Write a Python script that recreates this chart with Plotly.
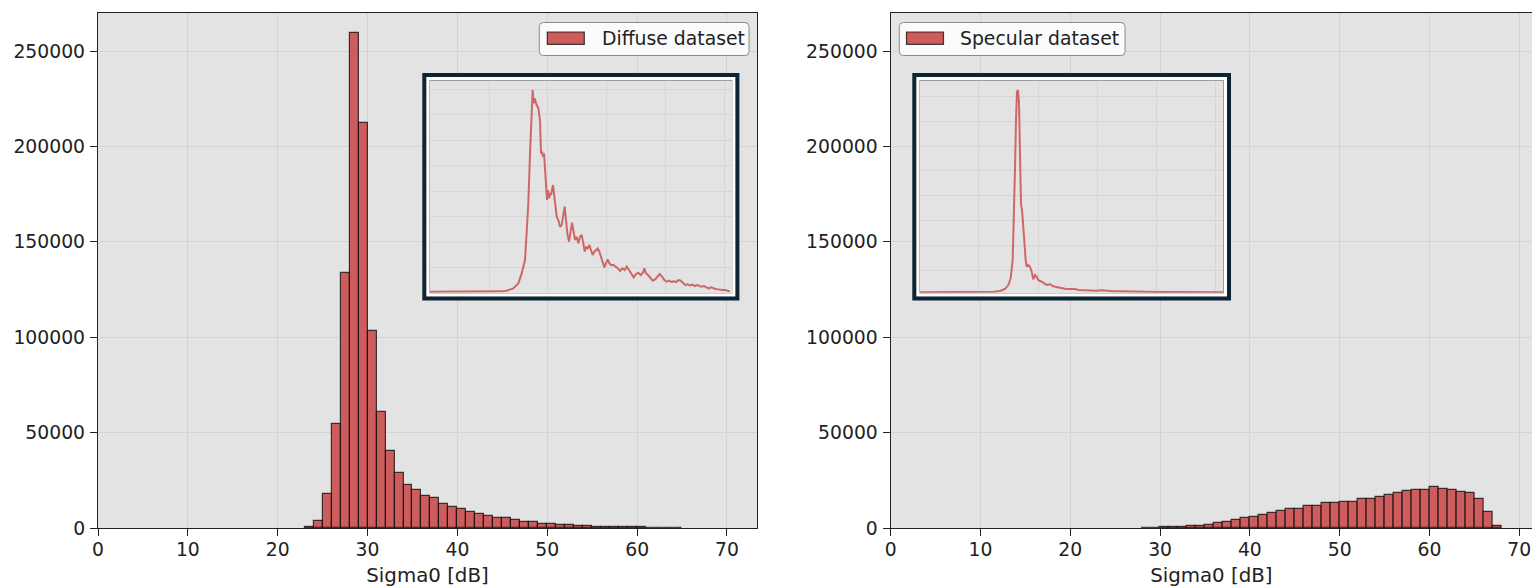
import plotly.graph_objects as go

# ---------------- data ----------------
diffuse_bin_left = [23, 24, 25, 26, 27, 28, 29, 30, 31, 32, 33, 34, 35, 36, 37, 38, 39, 40, 41, 42,
                    43, 44, 45, 46, 47, 48, 49, 50, 51, 52, 53, 54, 55, 56, 57, 58, 59, 60, 61, 62, 63, 64]
diffuse_counts = [600, 3700, 17800, 54300, 133600, 259300, 212300, 103400, 60600, 40200,
                  29000, 22700, 19900, 16900, 15500, 12800, 11200, 9900, 8500, 7200,
                  6300, 5100, 5100, 4400, 3000, 3000, 2100, 2100, 1400, 1400,
                  900, 900, 500, 400, 400, 300, 300, 300, 250, 200, 200, 150]

specular_bin_left = [28, 29, 30, 31, 32, 33, 34, 35, 36, 37, 38, 39, 40, 41, 42, 43, 44, 45, 46, 47,
                     48, 49, 50, 51, 52, 53, 54, 55, 56, 57, 58, 59, 60, 61, 62, 63, 64, 65, 66, 67]
specular_counts = [200, 250, 300, 350, 450, 900, 1100, 1800, 2700, 3400,
                   4100, 5300, 6000, 6700, 8100, 8800, 10000, 10000, 11600, 11600,
                   13000, 13000, 13700, 13700, 15100, 15100, 16500, 17400, 18100, 19300,
                   20000, 20000, 21600, 20700, 20000, 18800, 18100, 15100, 8300, 1300]

inset_diffuse_x = [30, 100, 180, 240, 260, 280, 295, 305, 315, 320,
                   325, 330, 335, 338, 341, 344, 350, 355, 360, 363,
                   366, 369, 372, 375, 378, 381, 384, 387, 390, 393,
                   396, 399, 402, 406, 410, 415, 420, 425, 430, 434,
                   438, 442, 447, 452, 456, 460, 465, 470, 475, 480,
                   485, 490, 494, 498, 503, 508, 513, 518, 523, 528,
                   533, 538, 543, 548, 553, 558, 563, 568, 573, 580,
                   587, 594, 600, 607, 614, 620, 627, 634, 641, 648,
                   655, 662, 669, 673, 677, 684, 691, 698, 705, 712,
                   719, 726, 733, 740, 747, 754, 761, 768, 775, 782,
                   789, 796, 803, 810, 817, 824, 831, 838, 845, 852,
                   859, 866, 873, 880, 887, 894, 901, 908, 915, 922, 930]
inset_diffuse_y = [0, 0, 0, 1, 3, 10, 25, 55, 95, 165,
                   265, 415, 565, 605, 565, 580, 560, 550, 515, 415,
                   420, 405, 415, 365, 305, 275, 305, 280, 295, 290,
                   305, 320, 295, 265, 225, 215, 195, 200, 235, 255,
                   215, 175, 150, 185, 207, 185, 155, 165, 145, 165,
                   170, 145, 120, 135, 130, 140, 125, 110, 120, 125,
                   130, 120, 105, 85, 73, 85, 97, 85, 80, 80,
                   75, 70, 62, 70, 65, 75, 65, 53, 43, 53,
                   57, 50, 57, 70, 57, 50, 40, 33, 37, 45,
                   53, 45, 35, 30, 33, 29, 31, 29, 35, 33,
                   25, 20, 22, 19, 21, 17, 20, 18, 15, 17,
                   14, 10, 13, 10, 8, 7, 5, 5, 5, 3, 1]

inset_specular_x = [30, 120, 200, 250, 270, 285, 295, 302, 308, 312,
                    315, 318, 321, 324, 327, 330, 333, 337, 340, 343,
                    347, 350, 355, 360, 365, 370, 375, 380, 385, 390,
                    398, 405, 412, 420, 428, 436, 445, 455, 465, 475,
                    485, 495, 505, 520, 540, 560, 575, 590, 610, 630,
                    660, 700, 750, 800, 850, 900, 940]
inset_specular_y = [0, 0, 0, 2, 4, 10, 22, 42, 97, 217,
                    367, 517, 602, 607, 567, 417, 267, 237, 187, 137,
                    97, 77, 82, 77, 62, 39, 52, 47, 37, 34,
                    31, 25, 22, 25, 19, 17, 15, 12, 11, 10,
                    11, 10, 7, 6, 5, 5, 6, 4, 3, 3,
                    2, 2, 1, 1, 1, 0, 0]

x_tick_vals = [0, 10, 20, 30, 40, 50, 60, 70]
y_tick_vals = [0, 50000, 100000, 150000, 200000, 250000]
y_tick_text = ["0", "50000", "100000", "150000", "200000", "250000"]
legend_labels = ["Diffuse dataset", "Specular dataset"]
x_title = "Sigma0 [dB]"

# ---------------- style / layout constants ----------------
W, H = 1532, 587
TOP, BOTTOM = 13, 528
FONT = "DejaVu Sans"
FS = 18.8
FS_TITLE = 19.8
TXT = "#222222"
BG = "#e3e3e3"
GRID = "#d3d3d3"
BAR_FILL = "#cd5c5c"
BAR_EDGE = "rgba(0,0,0,0.72)"
FRAME = "#0c2434"


def px(x):
    return x / W


def py(y):
    return (BOTTOM - y) / (BOTTOM - TOP)


fig = go.Figure()

fig.add_trace(go.Bar(x=[b + 0.5 for b in diffuse_bin_left], y=diffuse_counts, width=1,
                     marker=dict(color=BAR_FILL, line=dict(color=BAR_EDGE, width=1.2)),
                     xaxis="x", yaxis="y", showlegend=False, name=legend_labels[0]))
fig.add_trace(go.Bar(x=[b + 0.5 for b in specular_bin_left], y=specular_counts, width=1,
                     marker=dict(color=BAR_FILL, line=dict(color=BAR_EDGE, width=1.2)),
                     xaxis="x2", yaxis="y2", showlegend=False, name=legend_labels[1]))
fig.add_trace(go.Scatter(x=inset_diffuse_x, y=inset_diffuse_y, mode="lines",
                         line=dict(color="rgba(205,92,92,0.92)", width=2),
                         xaxis="x3", yaxis="y3", showlegend=False))
fig.add_trace(go.Scatter(x=inset_specular_x, y=inset_specular_y, mode="lines",
                         line=dict(color="rgba(205,92,92,0.92)", width=2),
                         xaxis="x4", yaxis="y4", showlegend=False))

main_x = dict(tickvals=x_tick_vals, ticks="outside", ticklen=7, tickwidth=1.3, tickcolor=TXT,
              showline=True, linecolor=TXT, linewidth=1.3, showgrid=True, gridcolor=GRID,
              gridwidth=1.3, zeroline=False, tickfont=dict(family=FONT, size=FS, color=TXT),
              title=dict(text=x_title, font=dict(family=FONT, size=FS_TITLE, color=TXT), standoff=10),
              ticklabelstandoff=-3, automargin=False)
main_y = dict(tickvals=y_tick_vals, ticktext=y_tick_text, ticks="outside", ticklen=7, tickwidth=1.3,
              tickcolor=TXT, showline=True, linecolor=TXT, linewidth=1.3, showgrid=True,
              gridcolor=GRID, gridwidth=1.3, zeroline=False, range=[0, 270000],
              tickfont=dict(family=FONT, size=FS, color=TXT), ticklabelstandoff=1,
              automargin=False)

inset_common = dict(showline=True, mirror=True, linecolor="#9c9c9c", linewidth=1.3,
                    showticklabels=False, ticks="", showgrid=True, gridcolor="#d6d6d6",
                    gridwidth=1, zeroline=False, automargin=False)

fig.update_layout(
    template="none",
    width=W, height=H,
    margin=dict(l=0, r=0, t=TOP, b=H - BOTTOM, pad=0, autoexpand=False),
    paper_bgcolor="white", plot_bgcolor=BG,
    font=dict(family=FONT, size=FS, color=TXT),
    bargap=0,
    xaxis=dict(main_x, domain=[px(98), px(757)], range=[0, 73.34], anchor="y", mirror=True),
    yaxis=dict(main_y, domain=[0, 1], anchor="x", mirror=True),
    xaxis2=dict(main_x, domain=[px(890.7), 1.0], range=[0, 71.42], anchor="y2", mirror=True),
    yaxis2=dict(main_y, domain=[0, 1], anchor="x2", mirror=False),
    xaxis3=dict(inset_common, domain=[px(430), px(731.7)], range=[30, 935], anchor="y3",
                tickvals=[207, 383, 560, 737, 912]),
    yaxis3=dict(inset_common, domain=[py(292.7), py(80.7)], range=[-3, 633], anchor="x3",
                tickvals=[73, 149, 226, 302, 378, 455, 531, 607]),
    xaxis4=dict(inset_common, domain=[px(920), px(1223.3)], range=[30, 940], anchor="y4",
                tickvals=[207, 385, 562, 740, 918]),
    yaxis4=dict(inset_common, domain=[py(292.7), py(80.7)], range=[-1, 635], anchor="x4",
                tickvals=[67, 142, 217, 290, 365, 437, 512, 587]),
)

shapes = []


def rect(x0, y0, x1, y1, color, width, fill=None):
    d = dict(type="rect", xref="paper", yref="paper", x0=px(x0), x1=px(x1), y0=py(y1), y1=py(y0),
             line=dict(color=color, width=width), layer="above")
    if fill:
        d["fillcolor"] = fill
    return d


def inset_frame(x0, y0, x1, y1):
    out = []
    o = 2.2
    out.append(rect(x0 - o, y0 - o, x1 + o, y1 + o, "white", 3))
    o = 5.7
    out.append(rect(x0 - o, y0 - o, x1 + o, y1 + o, FRAME, 4))
    return out


shapes += inset_frame(430, 80.7, 731.7, 292.7)
shapes += inset_frame(920, 80.7, 1223.3, 292.7)


def rounded(x0, y0, x1, y1, r):
    rx, ry = r / W, r / (BOTTOM - TOP)
    X0, X1, Y0, Y1 = px(x0), px(x1), py(y1), py(y0)  # Y0 bottom, Y1 top
    return (f"M {X0 + rx},{Y1} L {X1 - rx},{Y1} Q {X1},{Y1} {X1},{Y1 - ry} "
            f"L {X1},{Y0 + ry} Q {X1},{Y0} {X1 - rx},{Y0} L {X0 + rx},{Y0} "
            f"Q {X0},{Y0} {X0},{Y0 + ry} L {X0},{Y1 - ry} Q {X0},{Y1} {X0 + rx},{Y1} Z")


annotations = []
legend_boxes = [
    (539.3, 22.5, 749.0, 55.5, 547.3, 32.0, 584.3, 44.3, 600.0),
    (899.3, 22.5, 1125.0, 55.5, 906.5, 32.0, 943.5, 44.3, 958.3),
]
for (bx0, by0, bx1, by1, sx0, sy0, sx1, sy1, tx), label in zip(legend_boxes, legend_labels):
    shapes.append(dict(type="path", xref="paper", yref="paper", path=rounded(bx0, by0, bx1, by1, 4),
                       fillcolor="rgba(255,255,255,0.85)", line=dict(color="#8a8a8a", width=1),
                       layer="above"))
    shapes.append(rect(sx0, sy0, sx1, sy1, BAR_EDGE, 1.2, fill=BAR_FILL))
    annotations.append(dict(xref="paper", yref="paper", x=px(tx), y=py((sy0 + sy1) / 2),
                            xanchor="left", yanchor="middle", text=label, showarrow=False,
                            font=dict(family=FONT, size=FS, color=TXT)))

fig.update_layout(shapes=shapes, annotations=annotations)

fig.write_html("out.html")
